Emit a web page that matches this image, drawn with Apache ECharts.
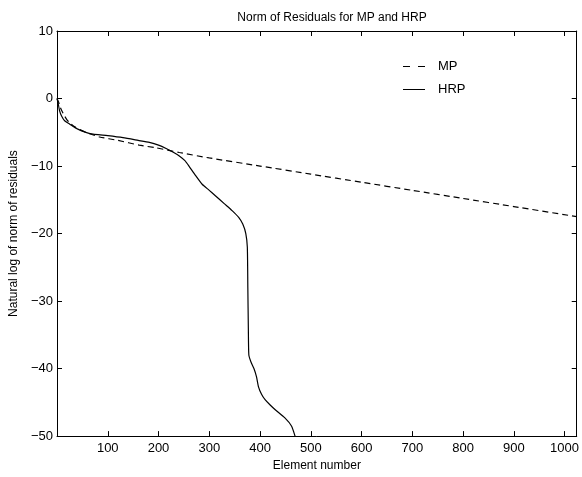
<!DOCTYPE html>
<html>
<head>
<meta charset="utf-8">
<script src="https://cdn.jsdelivr.net/npm/echarts@6/dist/echarts.min.js"></script>
<style>
  html, body { margin: 0; padding: 0; background: #fff; }
  #chart { width: 582px; height: 477px; }
</style>
</head>
<body>
<div id="chart"></div>
<script>
// readings: [element number, ln(norm of residual)]
const mpPoints = [
  [0, 0], [3, -0.5], [6, -1.2], [10, -1.9], [15, -2.6], [20, -3.2], [25, -3.6],
  [35, -4.2], [45, -4.6], [60, -5.1], [84, -5.7], [120, -6.2], [162, -6.9],
  [195, -7.3], [241, -8.0], [300, -8.8], [400, -10.0], [500, -11.2], [600, -12.4],
  [700, -13.6], [800, -14.8], [900, -16.0], [1024, -17.5]
]
const hrpPoints = [
  [0, 0], [2, -0.6], [5, -1.8], [9, -2.6], [15, -3.3], [25, -3.8], [40, -4.5],
  [65, -5.2], [100, -5.5], [130, -5.8], [160, -6.2], [182, -6.5], [200, -6.9],
  [215, -7.4], [230, -8.0], [241, -8.5], [252, -9.2], [260, -10.0], [272, -11.3],
  [286, -12.7], [300, -13.6], [312, -14.4], [330, -15.6], [345, -16.6], [358, -17.6],
  [366, -18.6], [372, -20.0], [375, -22], [376, -28], [377, -34], [378, -38],
  [382, -39], [388, -40], [393, -41.2], [397, -42.7], [403, -43.8], [410, -44.6],
  [420, -45.4], [430, -46.1], [449, -47.3], [462, -48.5], [469, -50]
]
const seriesNames = ['MP', 'HRP']
const xMax = 1024
const yTicks = [10, 0, -10, -20, -30, -40, -50]

const font = 'Liberation Sans, Arial, Helvetica, sans-serif'
const black = '#000'
const minus = v => String(v).replace('-', '\u2212')

// legend samples: two short dashes for MP, a plain stroke for HRP
const dashIcon = 'path://M0,0H7V1H0Z M15,0H22V1H15Z'
const solidIcon = 'path://M0,0H22V1H0Z'

const chart = echarts.init(document.getElementById('chart'))

const xAxisBase = {
  type: 'value',
  min: 0,
  max: xMax,
  interval: 100,
  splitLine: { show: false },
  axisLine: { show: true, onZero: false, lineStyle: { color: black, width: 1 } },
  axisTick: { show: true, inside: true, length: 5, lineStyle: { color: black } }
}
const yAxisBase = {
  type: 'value',
  min: yTicks[yTicks.length - 1],
  max: yTicks[0],
  interval: 10,
  splitLine: { show: false },
  axisLine: { show: true, onZero: false, lineStyle: { color: black, width: 1 } },
  axisTick: { show: true, inside: true, length: 5, lineStyle: { color: black } }
}

chart.setOption({
  animation: false,
  backgroundColor: '#fff',
  textStyle: { fontFamily: font, color: black },
  title: {
    text: 'Norm of Residuals for MP and HRP',
    left: 327,
    top: 7,
    textAlign: 'center',
    textStyle: { fontFamily: font, fontSize: 12, fontWeight: 'normal', color: black }
  },
  legend: {
    data: [
      { name: seriesNames[0], icon: dashIcon },
      { name: seriesNames[1], icon: solidIcon }
    ],
    orient: 'vertical',
    left: 398,
    top: 55,
    itemWidth: 22,
    itemHeight: 1.2,
    itemGap: 10,
    itemStyle: { color: black, borderWidth: 0 },
    textStyle: { fontFamily: font, fontSize: 13, color: black, padding: [0, 0, 0, 8] }
  },
  grid: { left: 57, right: 4, top: 31, bottom: 37, containLabel: false },
  xAxis: [
    {
      ...xAxisBase,
      position: 'bottom',
      name: 'Element number',
      nameLocation: 'middle',
      nameGap: 23,
      nameTextStyle: { fontFamily: font, fontSize: 12, color: black },
      axisLabel: {
        fontFamily: font, fontSize: 13, color: black, margin: 6,
        formatter: v => (v === 0 || v === xMax) ? '' : String(v)
      }
    },
    { ...xAxisBase, position: 'top', axisLabel: { show: false } }
  ],
  yAxis: [
    {
      ...yAxisBase,
      position: 'left',
      name: 'Natural log of norm of residuals',
      nameLocation: 'middle',
      nameGap: 34,
      nameTextStyle: { fontFamily: font, fontSize: 12, color: black },
      axisLabel: { fontFamily: font, fontSize: 13, color: black, margin: 4, formatter: minus }
    },
    { ...yAxisBase, position: 'right', axisLabel: { show: false } }
  ],
  series: [
    {
      name: seriesNames[0],
      type: 'line',
      data: mpPoints,
      symbol: 'none',
      smooth: 0.2,
      lineStyle: { color: black, width: 1.2, type: [6, 4] },
      itemStyle: { color: black }
    },
    {
      name: seriesNames[1],
      type: 'line',
      data: hrpPoints,
      symbol: 'none',
      smooth: 0.2,
      lineStyle: { color: black, width: 1.2, type: 'solid' },
      itemStyle: { color: black }
    }
  ]
})
</script>
</body>
</html>
